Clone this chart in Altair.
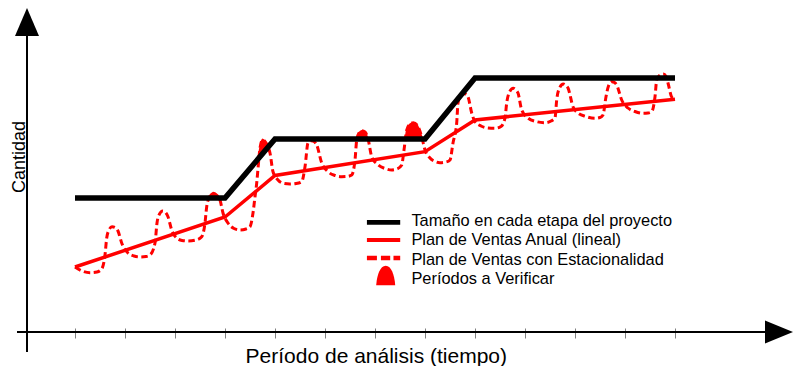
import altair as alt
import pandas as pd

# ---- data (x in periods, y in quantity units) ----
tick_values = list(range(13))

black_t = [0, 3, 4, 7, 8, 12]
black_v = [13.4, 13.4, 19.3, 19.3, 25.4, 25.4]

red_t = [0, 3, 4, 7, 8, 12]
red_v = [6.5, 11.5, 15.65, 18.03, 21.2, 23.27]

season_t = [
    0, 0.14, 0.30, 0.44, 0.534, 0.60, 0.634, 0.68, 0.74, 0.82, 0.86, 0.934,
    1.06, 1.18, 1.30, 1.42, 1.50, 1.60, 1.64, 1.69, 1.754, 1.82, 1.86, 1.934,
    2.034, 2.14, 2.26, 2.42, 2.534, 2.60, 2.634, 2.69, 2.766, 2.84, 2.90, 2.96,
    3.06, 3.18, 3.30, 3.42, 3.50, 3.56, 3.60, 3.63, 3.67, 3.70, 3.75, 3.80, 3.86, 3.90, 3.96,
    4.06, 4.18, 4.30, 4.42, 4.534, 4.60, 4.66, 4.734, 4.78, 4.834, 4.934,
    5.06, 5.20, 5.334, 5.44, 5.534, 5.60, 5.634, 5.68, 5.734, 5.80, 5.866, 5.934,
    6.066, 6.20, 6.334, 6.44, 6.534, 6.58, 6.634, 6.69, 6.766, 6.84, 6.934,
    7.0, 7.10, 7.20, 7.30, 7.42, 7.50, 7.56, 7.634, 7.66, 7.71, 7.766, 7.82, 7.86, 7.934,
    8.0, 8.12, 8.26, 8.40, 8.52, 8.60, 8.634, 8.69, 8.766, 8.82, 8.86, 8.934,
    9.06, 9.22, 9.40, 9.52, 9.60, 9.634, 9.69, 9.766, 9.82, 9.86, 9.96,
    10.06, 10.22, 10.40, 10.50, 10.56, 10.62, 10.67, 10.734, 10.79, 10.834, 10.934,
    11.06, 11.20, 11.36, 11.46, 11.534, 11.60, 11.634, 11.69, 11.766, 11.82, 11.86, 11.934,
    12.0,
]
season_v = [
    6.5, 6.1, 5.93, 6.0, 6.3, 7.7, 9.4, 10.2, 10.53, 10.4, 10.1, 8.9,
    7.9, 7.6, 7.5, 7.55, 7.7, 8.9, 10.9, 11.8, 12.1, 11.9, 11.53, 10.2,
    9.4, 9.15, 9.1, 9.2, 9.53, 10.9, 12.53, 13.5, 13.87, 13.65, 13.2, 11.9,
    10.9, 10.35, 10.2, 10.3, 10.53, 11.9, 13.53, 14.7, 16.9, 18.4, 19.2, 19.05, 18.5, 17.9, 16.03,
    15.2, 14.85, 14.8, 14.85, 15.03, 16.53, 18.9, 19.13, 19.05, 18.7, 16.9,
    16.03, 15.65, 15.53, 15.55, 15.7, 17.2, 19.2, 19.9, 20.13, 20.0, 19.2, 17.53,
    16.7, 16.35, 16.2, 16.3, 16.7, 18.2, 20.2, 20.75, 20.93, 20.7, 19.53,
    18.2, 17.4, 17.05, 16.93, 17.0, 17.2, 18.9, 20.9, 22.9, 23.65, 23.87, 23.75, 23.53, 21.9,
    21.03, 20.6, 20.4, 20.37, 20.55, 21.4, 22.9, 24.0, 24.37, 24.2, 23.9, 22.2,
    21.4, 21.05, 20.93, 21.1, 21.4, 23.2, 24.4, 24.8, 24.65, 24.4, 22.53,
    21.9, 21.55, 21.37, 21.45, 21.7, 23.53, 24.6, 25.03, 24.95, 24.7, 23.2,
    22.4, 22.05, 21.87, 21.9, 22.03, 23.53, 25.2, 25.65, 25.8, 25.55, 24.9, 23.5,
    23.27,
]

bump_id = ["A"] * 5 + ["B"] * 5 + ["C"] * 5 + ["D"] * 7
bump_t = [2.67, 2.72, 2.766, 2.81, 2.86,
          3.66, 3.70, 3.75, 3.80, 3.86,
          5.645, 5.68, 5.734, 5.80, 5.856,
          6.61, 6.634, 6.69, 6.766, 6.84, 6.934, 6.95]
bump_top = [13.4, 13.8, 13.93, 13.8, 13.4,
            17.3, 18.4, 19.27, 19.05, 18.49,
            19.32, 19.9, 20.13, 20.0, 19.32,
            19.32, 20.2, 20.75, 20.93, 20.7, 19.53, 19.32]
bump_base = [13.4, 13.4, 13.4, 13.4, 13.4,
             17.3, 17.53, 17.83, 18.12, 18.49,
             19.32, 19.32, 19.32, 19.32, 19.32,
             19.32, 19.32, 19.32, 19.32, 19.32, 19.32, 19.32]

legend_names = [
    "Tamaño en cada etapa del proyecto",
    "Plan de Ventas Anual (lineal)",
    "Plan de Ventas con Estacionalidad",
    "Períodos a Verificar",
]
legend_colors = ["#000000", "#ff0000", "#ff0000", "#ff0000"]
# symbol outlines (a zero-area point at the top keeps every entry the same height)
legend_paths = [
    "M-2.16,-0.11H2V0.48H-2.16Z M0,-1.63L0.01,-1.63",
    "M-2.16,-0.29H2V0.21H-2.16Z M0,-1.63L0.01,-1.63",
    "M-2.16,-0.46H-0.91V0.08H-2.16Z M-0.41,-0.46H0.75V0.08H-0.41Z M1.16,-0.46H2V0.08H1.16Z M0,-1.63L0.01,-1.63",
    "M-1,0.8C-0.9,-0.5,-0.5,-1.63,0.19,-1.63C0.88,-1.63,1.28,-0.5,1.375,0.8Z",
]

black_df = pd.DataFrame({"t": black_t, "v": black_v})
red_df = pd.DataFrame({"t": red_t, "v": red_v})
season_df = pd.DataFrame({"t": season_t, "v": season_v})
bump_df = pd.DataFrame({"id": bump_id, "t": bump_t, "top": bump_top, "base": bump_base})
legend_df = pd.DataFrame({"serie": legend_names})
one_df = pd.DataFrame({"k": [0]})

FONT = "Liberation Sans"

xs = alt.Scale(domain=[-0.96, 14.36], nice=False, zero=False)
ys = alt.Scale(domain=[0, 32.4], nice=False, zero=False)

x_axis = alt.Axis(
    title="Período de análisis (tiempo)", values=tick_values, labels=False,
    domain=False, grid=False, ticks=True, tickSize=10, tickColor="#808080",
    tickWidth=1, offset=-4, titleFont=FONT, titleFontSize=21,
    titleFontWeight="normal", titleColor="black", titleX=348.8, titleY=34,
    titleAlign="center", titleBaseline="alphabetic",
)
y_axis = alt.Axis(
    title="Cantidad", labels=False, ticks=False, domain=False, grid=False,
    titleFont=FONT, titleFontSize=18, titleFontWeight="normal",
    titleColor="black", titleX=-2.5, titleY=148.4, titleAngle=270,
    titleAlign="center", titleBaseline="alphabetic",
)


def X(f):
    return alt.X(f, type="quantitative", scale=xs, axis=x_axis)


def Y(f):
    return alt.Y(f, type="quantitative", scale=ys, axis=y_axis)


season = alt.Chart(season_df).mark_line(
    color="#ff0000", strokeWidth=3, strokeDash=[6.5, 3.5], interpolate="monotone"
).encode(x=X("t"), y=Y("v"))

bumps = alt.Chart(bump_df).mark_area(
    color="#ff0000", stroke="#ff0000", strokeWidth=1.5, interpolate="monotone"
).encode(x=X("t"), y=Y("top"), y2="base", detail="id:N")

red = alt.Chart(red_df).mark_line(color="#ff0000", strokeWidth=3.5).encode(
    x=X("t"), y=Y("v"))

black = alt.Chart(black_df).mark_line(
    color="#000000", strokeWidth=5.5, strokeJoin="miter", strokeCap="butt"
).encode(x=X("t"), y=Y("v"))

y_line = alt.Chart(one_df).mark_rule(color="black", strokeWidth=2).encode(
    x=alt.value(0), y=alt.value(24), y2=alt.value(344))
x_line = alt.Chart(one_df).mark_rule(color="black", strokeWidth=2).encode(
    x=alt.value(-10), x2=alt.value(740), y=alt.value(324))

y_arrow = alt.Chart(one_df).mark_point(
    filled=True, size=784, color="black", opacity=1, strokeWidth=0,
    shape="M0,-1L0.857,1L-0.857,1Z",
).encode(x=alt.value(0), y=alt.value(14))
x_arrow = alt.Chart(one_df).mark_point(
    filled=True, size=784, color="black", opacity=1, strokeWidth=0,
    shape="M1,0L-1,0.83L-1,-0.83Z",
).encode(x=alt.value(752), y=alt.value(324))

leg = alt.Legend(
    orient="none", legendX=349, legendY=204.7, title=None, padding=0,
    rowPadding=-2.7, labelOffset=19, labelFont=FONT, labelFontSize=16.4,
    labelColor="black", labelLimit=600, symbolSize=256, symbolStrokeWidth=0,
    symbolOpacity=1,
)
legend_layer = alt.Chart(legend_df).mark_point(
    filled=True, size=256, strokeWidth=0
).encode(
    color=alt.Color("serie:N", scale=alt.Scale(domain=legend_names, range=legend_colors), legend=leg),
    shape=alt.Shape("serie:N", scale=alt.Scale(domain=legend_names, range=legend_paths), legend=leg),
    opacity=alt.value(0),
)

chart = alt.layer(
    season, bumps, red, black, y_line, x_line, y_arrow, x_arrow, legend_layer
).properties(
    width=766, height=324,
    padding={"left": 19, "top": 0, "right": 0, "bottom": 34},
    autosize=alt.AutoSizeParams(type="none"),
    background="white",
).configure_view(stroke=None)

chart.save("out.html", embed_options={"renderer": "svg", "actions": False})
